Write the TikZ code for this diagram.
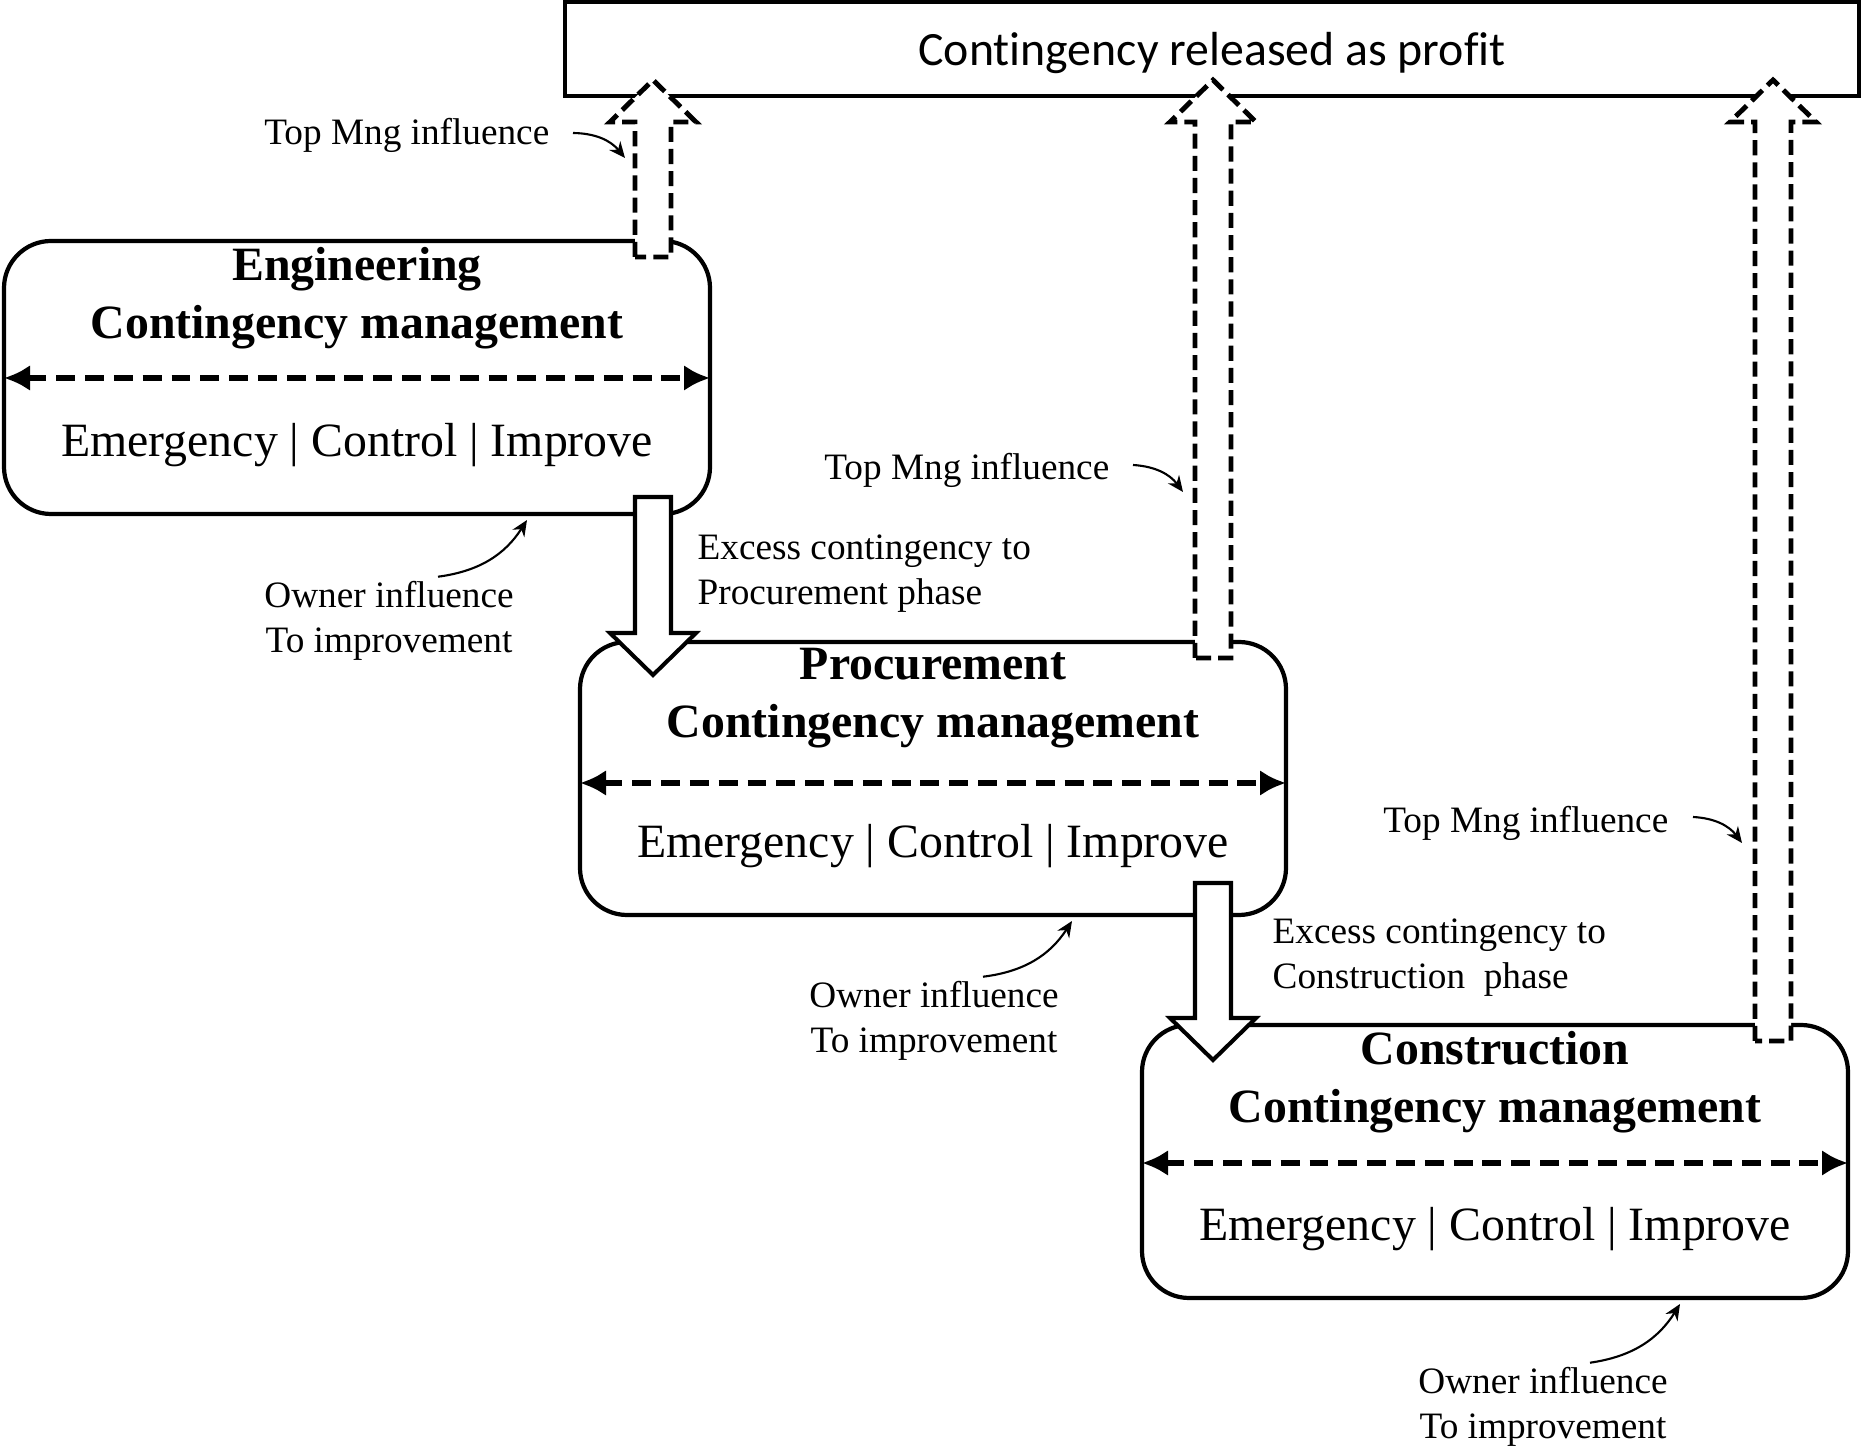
\documentclass[tikz,border=0pt]{standalone}
\usepackage{fontspec}
\setmainfont{Liberation Serif}
\newfontfamily\calibri[Ligatures=NoCommon]{Carlito}
\usetikzlibrary{positioning,calc,arrows.meta}

% hollow vertical arrow from #2 (tail) to #3 (tip)
\newcommand{\fatarrow}[3][]{%
  \draw[#1] let \p1=(#2), \p2=(#3), \n1={ifthenelse(\y2>\y1,1,-1)*0.42cm} in
    (\x1-0.18cm,\y1) -- (\x1-0.18cm,\y2-\n1) -- (\x1-0.43cm,\y2-\n1) -- (\x1,\y2)
    -- (\x1+0.43cm,\y2-\n1) -- (\x1+0.18cm,\y2-\n1) -- (\x1+0.18cm,\y1) -- cycle;}

\begin{document}
\begin{tikzpicture}[phase/.style={draw, line width=1.2pt, rounded corners=0.47cm, minimum width=7.06cm, minimum height=2.73cm, outer sep=0pt},
    title/.style={font=\fontsize{13.6}{16.3}\selectfont\bfseries, align=center, inner sep=0pt},
    body/.style={font=\fontsize{13.6}{16.3}\selectfont, inner sep=0pt},
    divider/.style={{Latex[length=2.6mm,width=2.6mm]}-{Latex[length=2.6mm,width=2.6mm]}, line width=1.9pt, dash pattern=on 5.4pt off 2.8pt},
    release/.style={line width=1.4pt, dash pattern=on 4.3pt off 2pt, fill=white},
    pass/.style={line width=1.15pt, fill=white},
    note/.style={font=\fontsize{10.6}{12.8}\selectfont, inner sep=0pt},
    hint/.style={-{Stealth[length=1.6mm,width=1.4mm]}, line width=0.6pt}]
    \useasboundingbox (0,0) rectangle (18.61,-14.47);
    % nodes
    \node[draw, line width=1.2pt, minimum width=12.94cm, minimum height=0.94cm, outer sep=0pt, text depth=0pt,
          font=\calibri\fontsize{13.6}{16}\selectfont] (profit) at (12.12,-0.49) {Contingency released as profit};
    \node[phase]      (eng)      at (3.57,-3.775)                      {};
    \node[phase]      (proc)     [below right=1.28cm and -1.30cm of eng]  {};
    \node[phase]      (cons)     [below right=1.10cm and -1.44cm of proc] {};
    % texts in the boxes
    \node[title, anchor=north] (engT)  at ($(eng.north)+(0,-0.06)$)  {Engineering\\Contingency management};
    \node[title, anchor=north] (procT) at ($(proc.north)+(0,-0.06)$) {Procurement\\Contingency management};
    \node[title, anchor=north] (consT) at ($(cons.north)+(0,-0.06)$) {Construction\\Contingency management};
    \node[body, anchor=base]   (engB)  at ($(eng.north)+(0,-2.16)$)  {Emergency | Control | Improve};
    \node[body, anchor=base]   (procB) at ($(proc.north)+(0,-2.16)$) {Emergency | Control | Improve};
    \node[body, anchor=base]   (consB) at ($(cons.north)+(0,-2.16)$) {Emergency | Control | Improve};
    % dividers
    \draw[divider] ($(eng.north west)+(0,-1.37)$) -- ($(eng.north east)+(0,-1.37)$);
    \draw[divider] ($(proc.north west)+(0,-1.41)$) -- ($(proc.north east)+(0,-1.41)$);
    \draw[divider] ($(cons.north west)+(0,-1.38)$) -- ($(cons.north east)+(0,-1.38)$);
    % arrow ends
    \coordinate (engUp)   at ($(eng.north east)+(-0.57,-0.16)$);
    \coordinate (procUp)  at ($(proc.north east)+(-0.73,-0.16)$);
    \coordinate (consUp)  at ($(cons.north east)+(-0.75,-0.16)$);
    \coordinate (engTop)  at ($(engUp |- profit.south)+(0,0.16)$);
    \coordinate (procTop) at ($(procUp |- profit.south)+(0,0.16)$);
    \coordinate (consTop) at ($(consUp |- profit.south)+(0,0.16)$);
    \coordinate (engDn)   at ($(eng.south east)+(-0.57,0.17)$);
    \coordinate (procDn)  at ($(proc.south east)+(-0.73,0.32)$);
    \coordinate (procIn)  at ($(engDn |- proc.north)+(0,-0.33)$);
    \coordinate (consIn)  at ($(procDn |- cons.north)+(0,-0.35)$);
    % arrows
    \fatarrow[release]{engUp}{engTop}
    \fatarrow[release]{procUp}{procTop}
    \fatarrow[release]{consUp}{consTop}
    \fatarrow[pass]{engDn}{procIn}
    \fatarrow[pass]{procDn}{consIn}
    % labels
    \node[note, anchor=east] (mng1) at (5.50,-1.35)  {Top Mng influence};
    \node[note, anchor=east] (mng2) at (11.10,-4.70) {Top Mng influence};
    \node[note, anchor=east] (mng3) at (16.69,-8.23) {Top Mng influence};
    \node[note, align=center] (own1) at (3.89,-6.21)  {Owner influence\\To improvement};
    \node[note, align=center] (own2) at (9.34,-10.21) {Owner influence\\To improvement};
    \node[note, align=center] (own3) at (15.43,-14.07) {Owner influence\\To improvement};
    \node[note, align=left, anchor=west] (exc1) at (6.97,-5.74)  {Excess contingency to\\Procurement phase};
    \node[note, align=left, anchor=west] (exc2) at (12.72,-9.58) {Excess contingency to\\Construction\ \ phase};
    % hint arrows
    \draw[hint] ($(mng1.east)+(0.23,0.02)$) to[bend left=25] ($(engUp |- mng1)+(-0.28,-0.23)$);
    \draw[hint] ($(mng2.east)+(0.23,0.05)$)  to[bend left=25] ($(procUp |- mng2)+(-0.30,-0.22)$);
    \draw[hint] ($(mng3.east)+(0.24,0.06)$)  to[bend left=25] ($(consUp |- mng3)+(-0.31,-0.20)$);
    \draw[hint] ($(own1.north)+(0.49,0.04)$)  to[bend right=25] ($(eng.south)+(1.70,-0.06)$);
    \draw[hint] ($(own2.north)+(0.49,0.04)$)  to[bend right=25] ($(proc.south)+(1.39,-0.06)$);
    \draw[hint] ($(own3.north)+(0.47,0.04)$)  to[bend right=25] ($(cons.south)+(1.85,-0.06)$);
\end{tikzpicture}
\end{document}
